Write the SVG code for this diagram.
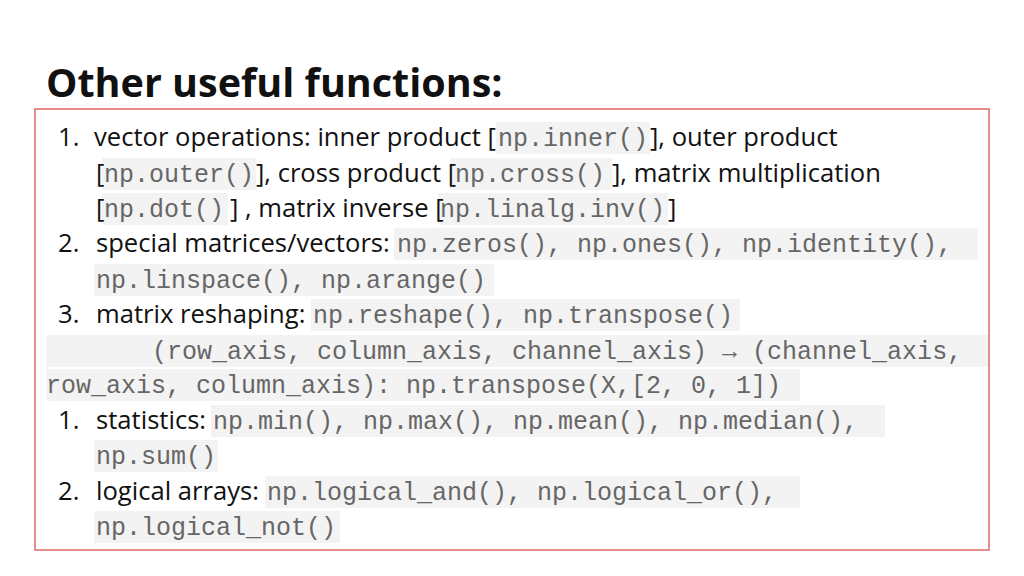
<svg xmlns="http://www.w3.org/2000/svg" width="1024" height="576" viewBox="0 0 1024 576">
<style>
.t{font-family:"Open Sans","Noto Sans",sans-serif;font-size:25.6px;fill:#111}
.m{font-family:"Liberation Mono",monospace;font-size:25px;fill:#666}
.b{fill:#f3f3f3}
</style>
<rect width="1024" height="576" fill="#fff"/>
<text x="46" y="97" font-family="'Open Sans','Noto Sans',sans-serif" font-weight="bold" font-size="39.5" fill="#111">Other useful functions:</text>
<rect x="35" y="109" width="954" height="441" fill="none" stroke="#e06666" stroke-width="1.5"/>
<g class="b">
<rect x="496" y="122" width="154" height="32"/>
<rect x="102" y="158" width="154" height="32"/>
<rect x="450" y="158" width="162" height="32"/>
<rect x="102" y="193" width="126" height="32"/>
<rect x="438" y="193" width="230" height="32"/>
<rect x="394" y="228" width="584" height="32"/>
<rect x="94" y="264" width="400" height="32"/>
<rect x="311" y="299" width="429" height="32"/>
<rect x="46" y="335" width="942" height="32"/>
<rect x="46" y="369" width="754" height="32"/>
<rect x="211" y="405" width="674" height="32"/>
<rect x="94" y="440" width="124" height="32"/>
<rect x="265" y="476" width="535" height="32"/>
<rect x="94" y="511" width="246" height="32"/>
</g>
<text class="t" x="58" y="146">1.</text>
<text class="t" x="496" y="146" text-anchor="end">vector operations: inner product [</text>
<text class="m" x="498" y="146">np.inner()</text>
<text class="t" x="650" y="146">], outer product</text>
<text class="t" x="96" y="182">[</text>
<text class="m" x="104" y="182">np.outer()</text>
<text class="t" x="256" y="182">], cross product [</text>
<text class="m" x="455" y="182">np.cross()</text>
<text class="t" x="612" y="182">], matrix multiplication</text>
<text class="t" x="96" y="217">[</text>
<text class="m" x="104" y="217">np.dot()</text>
<text class="t" x="230" y="217">] , matrix inverse [</text>
<text class="m" x="440" y="217">np.linalg.inv()</text>
<text class="t" x="668" y="217">]</text>
<text class="t" x="58" y="252">2.</text>
<text class="t" x="96" y="252">special matrices/vectors:</text>
<text class="m" x="397" y="252">np.zeros(), np.ones(), np.identity(),</text>
<text class="m" x="96" y="288">np.linspace(), np.arange()</text>
<text class="t" x="58" y="323">3.</text>
<text class="t" x="96" y="323">matrix reshaping:</text>
<text class="m" x="313" y="323">np.reshape(), np.transpose()</text>
<text class="m" x="152" y="359">(row_axis, column_axis, channel_axis) → (channel_axis,</text>
<text class="m" x="46" y="393">row_axis, column_axis): np.transpose(X,[2, 0, 1])</text>
<text class="t" x="58" y="429">1.</text>
<text class="t" x="96" y="429">statistics:</text>
<text class="m" x="213" y="429">np.min(), np.max(), np.mean(), np.median(),</text>
<text class="m" x="96" y="464">np.sum()</text>
<text class="t" x="58" y="500">2.</text>
<text class="t" x="96" y="500">logical arrays:</text>
<text class="m" x="267" y="500">np.logical_and(), np.logical_or(),</text>
<text class="m" x="96" y="535">np.logical_not()</text>
</svg>
